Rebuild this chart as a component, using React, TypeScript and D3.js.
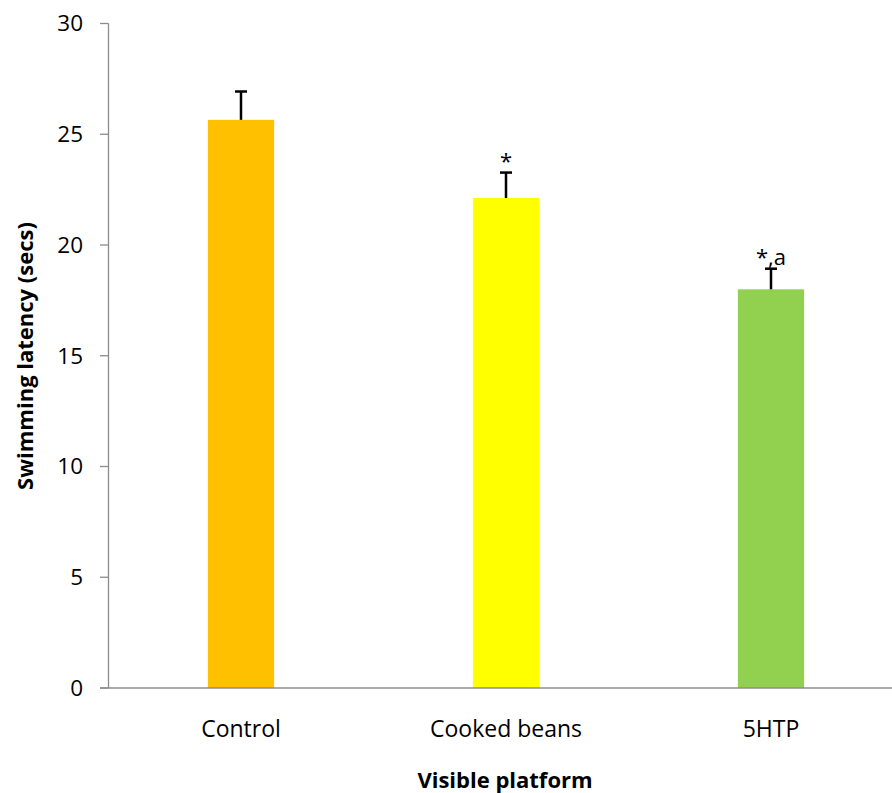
import * as d3 from "d3";
import React from "react";

const groups = ["Control", "Cooked beans", "5HTP"];
const means = [25.65, 22.12, 18.0];
const errors = [1.28, 1.15, 0.93];
const marks = ["", "*", "*,a"];
const colors = ["#ffc000", "#ffff00", "#92d050"];
const yTicks = [0, 5, 10, 15, 20, 25, 30];

export default function App() {
  const width = 892;
  const height = 793;
  const font = "'Open Sans', sans-serif";

  const x = d3
    .scaleBand()
    .domain(groups)
    .range([108.5, 903.5])
    .paddingInner(0.75)
    .paddingOuter(0.375);

  const y = d3.scaleLinear().domain([0, 30]).range([688, 23.5]);

  return (
    <svg
      width={width}
      height={height}
      style={{ position: "absolute", left: 0, top: 0, background: "#fff" }}
    >
      {/* bars */}
      {groups.map((g, i) => (
        <rect
          key={g}
          x={x(g)}
          y={y(means[i])}
          width={x.bandwidth()}
          height={y(0) - y(means[i])}
          fill={colors[i]}
        />
      ))}

      {/* error bars (upper only) */}
      {groups.map((g, i) => {
        const cx = (x(g) as number) + x.bandwidth() / 2;
        const top = y(means[i] + errors[i]);
        return (
          <g key={g + "-err"} stroke="#000" strokeWidth={2.5}>
            <line x1={cx} x2={cx} y1={y(means[i])} y2={top} />
            <line x1={cx - 6} x2={cx + 6} y1={top} y2={top} />
          </g>
        );
      })}

      {/* significance marks */}
      {groups.map((g, i) => (
        <text
          key={g + "-mark"}
          x={(x(g) as number) + x.bandwidth() / 2}
          y={y(means[i] + errors[i]) - 4}
          textAnchor="middle"
          fontFamily={font}
          fontSize={22}
          fill="#000"
        >
          {marks[i]}
        </text>
      ))}

      {/* y axis */}
      <line x1={108.5} x2={108.5} y1={y(30)} y2={y(0)} stroke="#8c8c8c" strokeWidth={1.3} />
      {yTicks.map((t) => (
        <g key={t}>
          <line x1={100} x2={108.5} y1={y(t)} y2={y(t)} stroke="#8c8c8c" strokeWidth={1.3} />
          <text
            x={83}
            y={y(t)}
            dy="0.35em"
            textAnchor="end"
            fontFamily={font}
            fontSize={22.5}
            fill="#000"
          >
            {t}
          </text>
        </g>
      ))}

      {/* x axis */}
      <line x1={100} x2={width} y1={y(0)} y2={y(0)} stroke="#8c8c8c" strokeWidth={1.3} />
      {groups.map((g) => (
        <text
          key={g + "-lbl"}
          x={(x(g) as number) + x.bandwidth() / 2}
          y={737}
          textAnchor="middle"
          fontFamily={font}
          fontSize={23}
          fill="#000"
        >
          {g}
        </text>
      ))}

      {/* axis titles */}
      <text
        x={505}
        y={788}
        textAnchor="middle"
        fontFamily={font}
        fontSize={22}
        fontWeight="bold"
        fill="#000"
      >
        Visible platform
      </text>
      <text
        transform={`translate(33,356) rotate(-90)`}
        textAnchor="middle"
        fontFamily={font}
        fontSize={22}
        fontWeight="bold"
        fill="#000"
      >
        Swimming latency (secs)
      </text>
    </svg>
  );
}
